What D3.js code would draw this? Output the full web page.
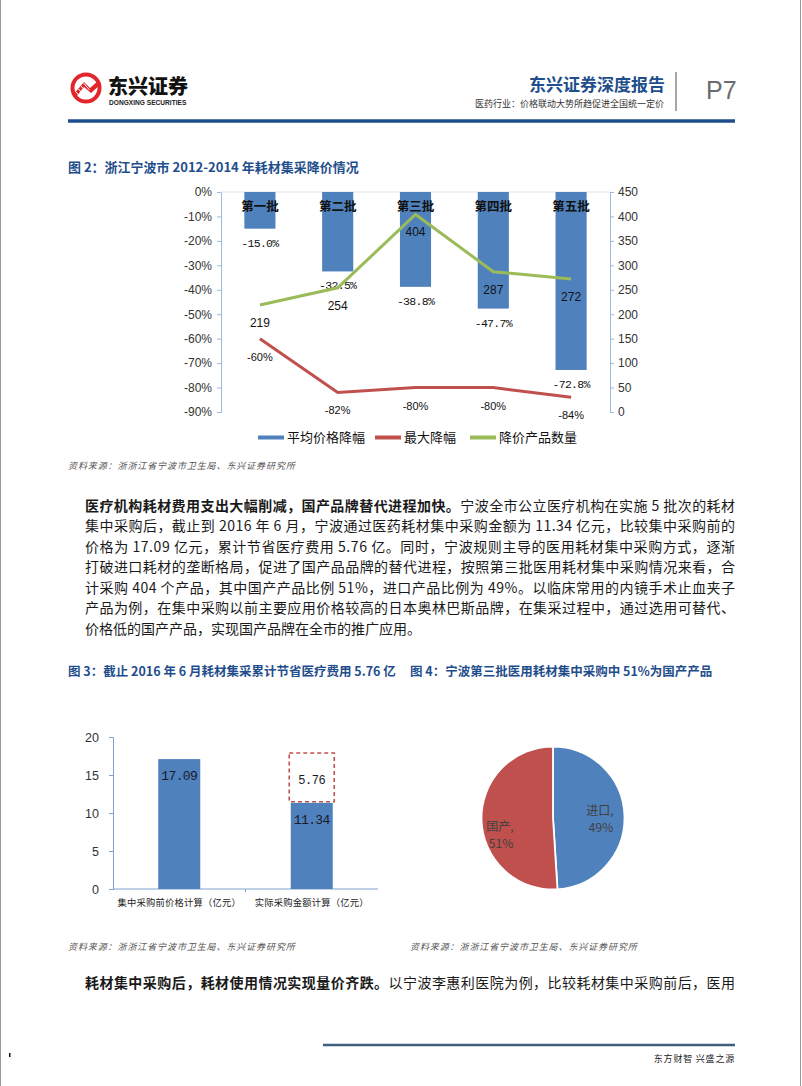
<!DOCTYPE html>
<html><head><meta charset="utf-8">
<script src="https://cdn.jsdelivr.net/npm/d3@7"></script>
<style>
html,body{margin:0;padding:0;background:#fff;}
svg{display:block;}
text{font-family:"Liberation Sans","Noto Sans CJK SC",sans-serif;}
.cjk{font-family:"Noto Sans CJK SC",sans-serif;}
.mono{font-family:"Liberation Mono","DejaVu Sans Mono",monospace;}
</style></head>
<body>
<svg id="page" width="802" height="1086"></svg>
<script>
// ---------- Figure 2 data ----------
const batches = ["第一批","第二批","第三批","第四批","第五批"];
const avgDrop = [-15.0,-32.5,-38.8,-47.7,-72.8];
const maxDrop = [-60,-82,-80,-80,-84];
const productCount = [219,254,404,287,272];
const leftTicks = [0,-10,-20,-30,-40,-50,-60,-70,-80,-90];
const rightTicks = [0,50,100,150,200,250,300,350,400,450];
const legendNames = ["平均价格降幅","最大降幅","降价产品数量"];
// ---------- Figure 3 data ----------
const costCats = ["集中采购前价格计算（亿元）","实际采购金额计算（亿元）"];
const costVals = [17.09,11.34];
const savedVal = 5.76;
const costTicks = [0,5,10,15,20];
// ---------- Figure 4 data ----------
const originCats = ["进口","国产"];
const originVals = [49,51];

const BLUE="#4f81bd", RED="#c0504d", GREEN="#9bbb59", NAVY="#1f4e8c";
const svg = d3.select("#page");

// page border
svg.append("line").attr("x1",0.5).attr("x2",0.5).attr("y1",0).attr("y2",1086).attr("stroke","#9a9a9a");
svg.append("line").attr("x1",800.5).attr("x2",800.5).attr("y1",0).attr("y2",1086).attr("stroke","#9a9a9a");

// ---------- Header ----------
const logo = svg.append("g");
logo.append("circle").attr("cx",86).attr("cy",88).attr("r",15.5).attr("fill","#e3262b");
logo.append("circle").attr("cx",86).attr("cy",88).attr("r",11.5).attr("fill","#fff");
logo.append("path").attr("d","M73,95 L84,82 L90,88 L99,80 L101,84 L91,93 L84,87 L76,97 Z").attr("fill","#e3262b");
[0,1,2,3].forEach(i=>logo.append("line").attr("x1",76+i*2.5).attr("y1",92-i*3).attr("x2",82+i*2.5).attr("y2",99-i*3).attr("stroke","#fff").attr("stroke-width",1));
logo.append("text").attr("class","cjk").attr("x",108).attr("y",94).attr("font-size",20).attr("font-weight",900).attr("fill","#111").text("东兴证券");
logo.append("text").attr("x",109).attr("y",105).attr("font-size",6.6).attr("font-weight",700).attr("fill","#222").text("DONGXING SECURITIES");

svg.append("text").attr("class","cjk").attr("x",665).attr("y",91).attr("text-anchor","end").attr("font-size",17).attr("font-weight",700).attr("fill",NAVY).text("东兴证券深度报告");
svg.append("text").attr("class","cjk").attr("x",664).attr("y",107).attr("text-anchor","end").attr("font-size",9).attr("fill","#333").text("医药行业：价格联动大势所趋促进全国统一定价");
svg.append("line").attr("x1",676).attr("x2",676).attr("y1",72).attr("y2",111).attr("stroke","#888").attr("stroke-width",1.5);
svg.append("text").attr("x",706).attr("y",99).attr("font-size",25).attr("fill","#6b6b6b").attr("font-weight",300).text("P7");
svg.append("line").attr("x1",68).attr("x2",735).attr("y1",121).attr("y2",121).attr("stroke",NAVY).attr("stroke-width",3.5);

// ---------- Figure 2 ----------
svg.append("text").attr("class","cjk").attr("x",68).attr("y",172).attr("font-size",13).attr("font-weight",700).attr("fill",NAVY).text("图 2：浙江宁波市 2012-2014 年耗材集采降价情况");

const f2 = svg.append("g");
const x2 = d3.scaleBand().domain(batches).range([221,610]);
const yL = d3.scaleLinear().domain([-90,0]).range([412,192]);
const yR = d3.scaleLinear().domain([0,450]).range([412,192]);
const bw2 = x2.bandwidth()*0.4;
const cx2 = d => x2(d)+x2.bandwidth()/2;

const axL = f2.append("g").attr("transform","translate(221,0)")
  .call(d3.axisLeft(yL).tickValues(leftTicks).tickFormat(d=>d+"%").tickSize(4).tickPadding(5));
const axR = f2.append("g").attr("transform","translate(610,0)")
  .call(d3.axisRight(yR).tickValues(rightTicks).tickSize(4).tickPadding(4));
[axL,axR].forEach(a=>{
  a.selectAll("path,line").attr("stroke","#9db9de");
  a.selectAll("text").attr("font-size",12).attr("fill","#333").attr("font-family","Liberation Sans,sans-serif");
});
f2.append("line").attr("x1",221).attr("x2",610).attr("y1",yL(0)).attr("y2",yL(0)).attr("stroke","#dde6f2");

f2.selectAll("rect.bar").data(batches).join("rect").attr("class","bar")
  .attr("x",d=>cx2(d)-bw2/2).attr("width",bw2)
  .attr("y",yL(0)).attr("height",(d,i)=>yL(avgDrop[i])-yL(0)).attr("fill",BLUE);
f2.selectAll("text.cat").data(batches).join("text").attr("class","cat cjk")
  .attr("x",d=>cx2(d)).attr("y",yL(0)+19).attr("text-anchor","middle")
  .attr("font-size",12.5).attr("font-weight",700).attr("fill","#111").text(d=>d);
f2.selectAll("text.bv").data(batches).join("text").attr("class","bv mono")
  .attr("x",d=>cx2(d)).attr("y",(d,i)=>yL(avgDrop[i])+18).attr("text-anchor","middle")
  .attr("font-size",11.5).attr("letter-spacing",-0.7).attr("fill","#111").text((d,i)=>avgDrop[i].toFixed(1)+"%");

const lineL = d3.line().x((d,i)=>cx2(batches[i])).y(d=>yL(d));
const lineR = d3.line().x((d,i)=>cx2(batches[i])).y(d=>yR(d));
f2.append("path").datum(maxDrop).attr("d",lineL).attr("fill","none").attr("stroke",RED).attr("stroke-width",3);
f2.append("path").datum(productCount).attr("d",lineR).attr("fill","none").attr("stroke",GREEN).attr("stroke-width",3);
f2.selectAll("text.mv").data(maxDrop).join("text").attr("class","mv")
  .attr("x",(d,i)=>cx2(batches[i])).attr("y",d=>yL(d)+22).attr("text-anchor","middle")
  .attr("font-size",11).attr("fill","#111").text(d=>d+"%");
f2.selectAll("text.pv").data(productCount).join("text").attr("class","pv")
  .attr("x",(d,i)=>cx2(batches[i])).attr("y",d=>yR(d)+22).attr("text-anchor","middle")
  .attr("font-size",12).attr("fill","#111").text(d=>d);

// legend
const legX = [258,375,470];
const legCol = [BLUE,RED,GREEN];
const leg = f2.append("g");
legendNames.forEach((n,i)=>{
  leg.append("rect").attr("x",legX[i]).attr("y",435.5).attr("width",26).attr("height",4).attr("fill",legCol[i]);
  leg.append("text").attr("class","cjk").attr("x",legX[i]+29).attr("y",442).attr("font-size",13).attr("fill","#111").text(n);
});

const src = "资料来源：浙浙江省宁波市卫生局、东兴证券研究所";
function source(x,y){
  svg.append("text").attr("class","cjk").attr("x",x).attr("y",y).attr("font-size",9).attr("font-style","italic")
    .attr("letter-spacing",0.9).attr("fill","#555").text(src);
}
source(68,469);

// ---------- Paragraph ----------
const para1 = [
  [["医疗机构耗材费用支出大幅削减，国产品牌替代进程加快。",1],["宁波全市公立医疗机构在实施 5 批次的耗材",0]],
  [["集中采购后，截止到 2016 年 6 月，宁波通过医药耗材集中采购金额为 11.34 亿元，比较集中采购前的",0]],
  [["价格为 17.09 亿元，累计节省医疗费用 5.76 亿。同时，宁波规则主导的医用耗材集中采购方式，逐渐",0]],
  [["打破进口耗材的垄断格局，促进了国产品品牌的替代进程，按照第三批医用耗材集中采购情况来看，合",0]],
  [["计采购 404 个产品，其中国产产品比例 51%，进口产品比例为 49%。以临床常用的内镜手术止血夹子",0]],
  [["产品为例，在集中采购以前主要应用价格较高的日本奥林巴斯品牌，在集采过程中，通过选用可替代、",0]],
  [["价格低的国产产品，实现国产品牌在全市的推广应用。",0]]
];
const para1Y = [511,531,552,572,593,613,634];
function textLine(segs,y,justify){
  const t = svg.append("text").attr("class","cjk").attr("x",85).attr("y",y).attr("font-size",14).attr("fill","#1a1a1a");
  segs.forEach(s=>t.append("tspan").attr("font-weight",s[1]?700:400).text(s[0]));
  if(justify){
    const w = t.node().getComputedTextLength();
    const n = segs.map(s=>s[0]).join("").length;
    const ls = (650 - w)/(n-1);
    t.attr("letter-spacing",ls);
  }
}
para1.forEach((l,i)=>textLine(l,para1Y[i],i<para1.length-1));

// ---------- Figure 3 & 4 titles ----------
svg.append("text").attr("class","cjk").attr("x",68).attr("y",676).attr("font-size",12.5).attr("font-weight",700).attr("fill",NAVY).text("图 3：截止 2016 年 6 月耗材集采累计节省医疗费用 5.76 亿");
svg.append("text").attr("class","cjk").attr("x",410).attr("y",676).attr("font-size",12.5).attr("font-weight",700).attr("fill",NAVY).text("图 4：宁波第三批医用耗材集中采购中 51%为国产产品");

// ---------- Figure 3 ----------
const f3 = svg.append("g");
const x3 = d3.scaleBand().domain(costCats).range([113,378]);
const y3 = d3.scaleLinear().domain([0,20]).range([889,737]);
const bw3 = 42;
const cx3 = d => x3(d)+x3.bandwidth()/2;
const ax3 = f3.append("g").attr("transform","translate(113,0)")
  .call(d3.axisLeft(y3).tickValues(costTicks).tickSize(4).tickPadding(10));
ax3.selectAll("path,line").attr("stroke","#7fa2cf");
ax3.selectAll("text").attr("font-size",12.5).attr("fill","#333");
f3.append("line").attr("x1",113).attr("x2",378).attr("y1",y3(0)).attr("y2",y3(0)).attr("stroke","#7fa2cf");
[costCats[1]].forEach(c=>f3.append("line").attr("x1",x3(c)).attr("x2",x3(c)).attr("y1",y3(0)).attr("y2",y3(0)+3).attr("stroke","#7fa2cf"));
f3.selectAll("rect.cb").data(costCats).join("rect").attr("class","cb")
  .attr("x",d=>cx3(d)-bw3/2).attr("width",bw3)
  .attr("y",(d,i)=>y3(costVals[i])).attr("height",(d,i)=>y3(0)-y3(costVals[i])).attr("fill",BLUE);
// saved segment (stacked on actual purchase)
const sc = costCats[1];
f3.append("rect").attr("x",cx3(sc)-bw3/2-1.5).attr("width",bw3+3)
  .attr("y",y3(costVals[1]+savedVal)-6).attr("height",y3(costVals[1])-y3(costVals[1]+savedVal)+6-1)
  .attr("fill","#fff").attr("stroke",RED).attr("stroke-width",1.6).attr("stroke-dasharray","4,3");
f3.selectAll("text.cv").data(costCats).join("text").attr("class","cv mono")
  .attr("x",d=>cx3(d)).attr("y",(d,i)=>y3(costVals[i])+21).attr("text-anchor","middle")
  .attr("font-size",13).attr("letter-spacing",-0.6).attr("fill","#1a1a2a").text((d,i)=>costVals[i].toFixed(2));
f3.append("text").attr("class","mono").attr("x",cx3(sc)).attr("y",y3(costVals[1]+savedVal/2)+3)
  .attr("text-anchor","middle").attr("font-size",12).attr("letter-spacing",-0.5).attr("fill","#1a1a2a").text(savedVal.toFixed(2));
f3.selectAll("text.cl").data(costCats).join("text").attr("class","cl cjk")
  .attr("x",d=>cx3(d)).attr("y",906).attr("text-anchor","middle")
  .attr("font-size",9.3).attr("letter-spacing",0.2).attr("fill","#222").text(d=>d);
source(68,950);

// ---------- Figure 4 ----------
const f4 = svg.append("g").attr("transform","translate(553,818)");
const pie = d3.pie().sort(null).value(d=>d);
const arc = d3.arc().innerRadius(0).outerRadius(71.5);
const arcs = pie(originVals);
f4.selectAll("path").data(arcs).join("path").attr("d",arc)
  .attr("fill",(d,i)=>[BLUE,RED][i]).attr("stroke","#fff").attr("stroke-width",1.8);
const labelPos = [[47,-3],[-53,13]];
arcs.forEach((a,i)=>{
  const t = f4.append("text").attr("class","cjk").attr("text-anchor","middle").attr("font-size",12).attr("fill","#404040");
  t.append("tspan").attr("x",labelPos[i][0]).attr("y",labelPos[i][1]).text(originCats[i]+",");
  t.append("tspan").attr("x",labelPos[i][0]+1).attr("y",labelPos[i][1]+17).text(originVals[i]+"%");
});
source(410,950);

// ---------- Bottom paragraph ----------
textLine([["耗材集中采购后，耗材使用情况实现量价齐跌。",1],["以宁波李惠利医院为例，比较耗材集中采购前后，医用",0]],988,true);

// ---------- Footer ----------
svg.append("line").attr("x1",323).attr("x2",735).attr("y1",1045).attr("y2",1045).attr("stroke","#3e5f7e").attr("stroke-width",2.5);
svg.append("text").attr("class","cjk").attr("x",735).attr("y",1062).attr("text-anchor","end").attr("font-size",9).attr("letter-spacing",0.8).attr("fill","#222").text("东方财智 兴盛之源");
svg.append("rect").attr("x",9).attr("y",1053).attr("width",1.5).attr("height",4).attr("fill","#111");
</script>
</body></html>
